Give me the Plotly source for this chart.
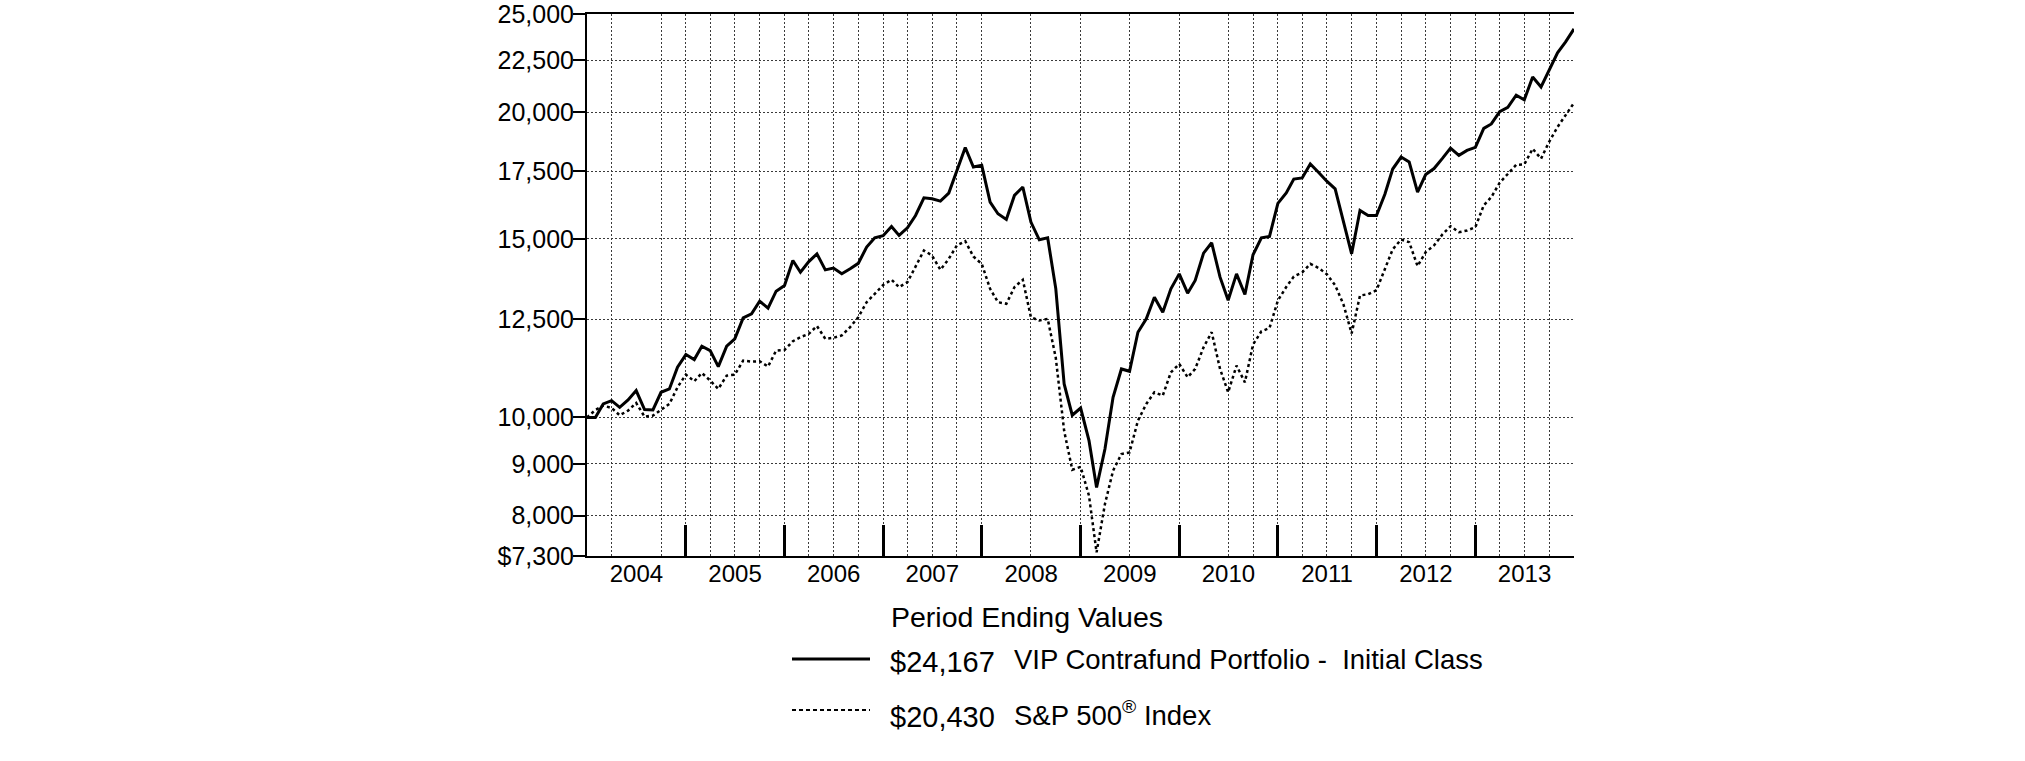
import math
import plotly.graph_objects as go
import pandas as pd

# ---------------- data ----------------
start_month = "2003-12-01"
n_months = 121  # Dec 2003 .. Dec 2013, month ends

contrafund = [
    10000, 10000, 10311, 10389, 10233, 10405, 10628, 10179, 10171, 10588, 10669, 11207,
    11535, 11404, 11755, 11639, 11225, 11755, 11954, 12537, 12652, 13022, 12817, 13321,
    13494, 14281, 13907, 14248, 14499, 13982, 14040, 13860, 14014, 14190, 14723, 15040,
    15110, 15431, 15119, 15384, 15821, 16470, 16432, 16345, 16646, 17552, 18460, 17660,
    17727, 16308, 15882, 15679, 16558, 16875, 15584, 14970, 15039, 13400, 10790, 10050,
    10215, 9486, 8531, 9308, 10468, 11164, 11105, 12136, 12509, 13141, 12701, 13392,
    13855, 13261, 13648, 14523, 14868, 13751, 13050, 13855, 13220, 14470, 15039, 15085,
    16260, 16650, 17185, 17230, 17780, 17440, 17100, 16808, 15643, 14500, 16002, 15821,
    15821, 16600, 17580, 18066, 17860, 16683, 17360, 17600, 18010, 18437, 18136, 18340,
    18470, 19280, 19475, 20030, 20225, 20787, 20570, 21670, 21183, 22045, 22890, 23464,
    24167,
]

sp500 = [
    10000, 10171, 10272, 10218, 10050, 10156, 10335, 10018, 10041, 10171, 10311, 10709,
    11021, 10856, 11063, 10873, 10669, 10997, 11021, 11378, 11352, 11361, 11225, 11639,
    11657, 11890, 12000, 12092, 12307, 11954, 11982, 12046, 12279, 12556, 12992, 13240,
    13510, 13672, 13443, 13596, 14067, 14612, 14445, 13982, 14336, 14779, 14924, 14412,
    14174, 13392, 12992, 12943, 13443, 13672, 12556, 12461, 12510, 11450, 9700, 8880,
    8940, 8370, 7360, 8216, 8860, 9203, 9237, 9926, 10312, 10588, 10509, 11079,
    11293, 10956, 11165, 11727, 12136, 11165, 10588, 11249, 10830, 11800, 12160, 12250,
    13040, 13450, 13770, 13900, 14174, 14040, 13846, 13500, 12920, 12100, 13191, 13230,
    13350, 14000, 14650, 14977, 14889, 14100, 14555, 14779, 15155, 15437, 15229, 15289,
    15407, 16190, 16493, 17040, 17393, 17750, 17768, 18410, 18000, 18700, 19340, 19860,
    20430,
]

fund_name = "VIP Contrafund Portfolio - \u00a0Initial Class"
index_name = "S&P 500<sup>\u00ae</sup> Index"
legend_title = "Period Ending Values"

y_min, y_max = 7300, 25000
y_tick_vals = [7300, 8000, 9000, 10000, 12500, 15000, 17500, 20000, 22500, 25000]
y_tick_text = ["$7,300", "8,000", "9,000", "10,000", "12,500", "15,000",
               "17,500", "20,000", "22,500", "25,000"]

years = list(range(2004, 2014))
# month ends that carry a vertical dotted grid line
grid_months = ["2004-03", "2004-09", "2004-12", "2005-03", "2005-06", "2005-09", "2005-12",
               "2006-03", "2006-06", "2006-09", "2006-12", "2007-03", "2007-06", "2007-09",
               "2007-12", "2008-06", "2008-12", "2009-06", "2009-12", "2010-06", "2010-09",
               "2010-12", "2011-03", "2011-06", "2011-09", "2011-12", "2012-03", "2012-06",
               "2012-09", "2012-12", "2013-03", "2013-06", "2013-09"]

# ---------------- derived ----------------
base = pd.Timestamp(start_month)
dates = [base + pd.DateOffset(months=i) + pd.offsets.MonthEnd(0) for i in range(n_months)]
grid_dates = [pd.Timestamp(m + "-01") + pd.offsets.MonthEnd(0) for m in grid_months]
year_ends = [pd.Timestamp(f"{y - 1}-12-31") for y in years]
year_mids = [pd.Timestamp(f"{y}-07-01") for y in years]
x_range = [dates[0], dates[-1]]

FONT = "Liberation Sans, Arial, sans-serif"
GRID = "#3a3a3a"

fig = go.Figure()
fig.add_trace(go.Scatter(x=dates, y=sp500, mode="lines", name="S&P 500 Index",
                         line=dict(color="black", width=2.5, dash="3px,3px")))
fig.add_trace(go.Scatter(x=dates, y=contrafund, mode="lines", name="VIP Contrafund",
                         line=dict(color="black", width=3)))
# helper trace for the year-boundary tick axis
fig.add_trace(go.Scatter(x=[dates[0]], y=[10000], xaxis="x2", mode="lines",
                         showlegend=False, hoverinfo="skip", line=dict(width=0)))

# plot-area edges in window pixels (page body margin is set to 0 below)
L, R, T, B = 587, 1574, 14, 556
W, H = 2025, 761


def px(x):
    return (x - L) / (R - L)


def py(y):
    return (B - y) / (B - T)


fig.update_layout(
    template="none",
    width=W, height=H,
    margin=dict(l=L, r=W - R, t=T, b=H - B, autoexpand=False),
    paper_bgcolor="white", plot_bgcolor="white",
    showlegend=False,
    font=dict(family=FONT, color="black"),
    xaxis=dict(
        type="date", range=x_range, automargin=False,
        tickmode="array", tickvals=year_mids, ticktext=[str(y) for y in years],
        ticks="", showgrid=False, zeroline=False, ticklabelstandoff=-5,
        tickfont=dict(family=FONT, size=24, color="black"),
        showline=True, mirror=True, linecolor="black", linewidth=2,
        minor=dict(tickmode="array", tickvals=grid_dates, ticks="",
                   showgrid=True, gridcolor=GRID, gridwidth=1, griddash="2px,2px"),
    ),
    xaxis2=dict(
        type="date", range=x_range, overlaying="x", anchor="y", side="bottom",
        automargin=False,
        tickmode="array", tickvals=year_ends, ticks="inside", ticklen=31,
        tickwidth=3, tickcolor="black", showticklabels=False,
        showgrid=False, zeroline=False, showline=False,
    ),
    yaxis=dict(
        type="log", range=[math.log10(y_min), math.log10(y_max)], automargin=False,
        tickmode="array", tickvals=y_tick_vals, ticktext=y_tick_text,
        ticks="outside", ticklen=12, tickwidth=2, tickcolor="black",
        ticklabelstandoff=-6, ticklabeloverflow="allow",
        tickfont=dict(family=FONT, size=25, color="black"),
        showgrid=True, gridcolor=GRID, gridwidth=1, griddash="2px,2px",
        showline=True, linecolor="black", linewidth=2, zeroline=False,
    ),
)

ann = [
    dict(text=legend_title, x=px(889), y=py(617), xanchor="left", yanchor="middle",
         font=dict(family=FONT, size=28.5)),
    dict(text=f"${contrafund[-1]:,}", x=px(888), y=py(662), xanchor="left", yanchor="middle",
         font=dict(family=FONT, size=29)),
    dict(text=fund_name, x=px(1012), y=py(659), xanchor="left", yanchor="middle",
         font=dict(family=FONT, size=27.5)),
    dict(text=f"${sp500[-1]:,}", x=px(888), y=py(717), xanchor="left", yanchor="middle",
         font=dict(family=FONT, size=29)),
    dict(text=index_name, x=px(1012), y=py(713), xanchor="left", yanchor="middle",
         font=dict(family=FONT, size=27.5)),
]
for a in ann:
    a.update(xref="paper", yref="paper", showarrow=False)
fig.update_layout(annotations=ann)

fig.add_shape(type="line", xref="paper", yref="paper", x0=px(792), x1=px(870),
              y0=py(659), y1=py(659), line=dict(color="black", width=3))
fig.add_shape(type="line", xref="paper", yref="paper", x0=px(792), x1=px(870),
              y0=py(710), y1=py(710), line=dict(color="black", width=2, dash="4px,3px"))

fig.write_html("out.html", config={"displayModeBar": False},
               post_script="document.body.style.margin='0px';")
